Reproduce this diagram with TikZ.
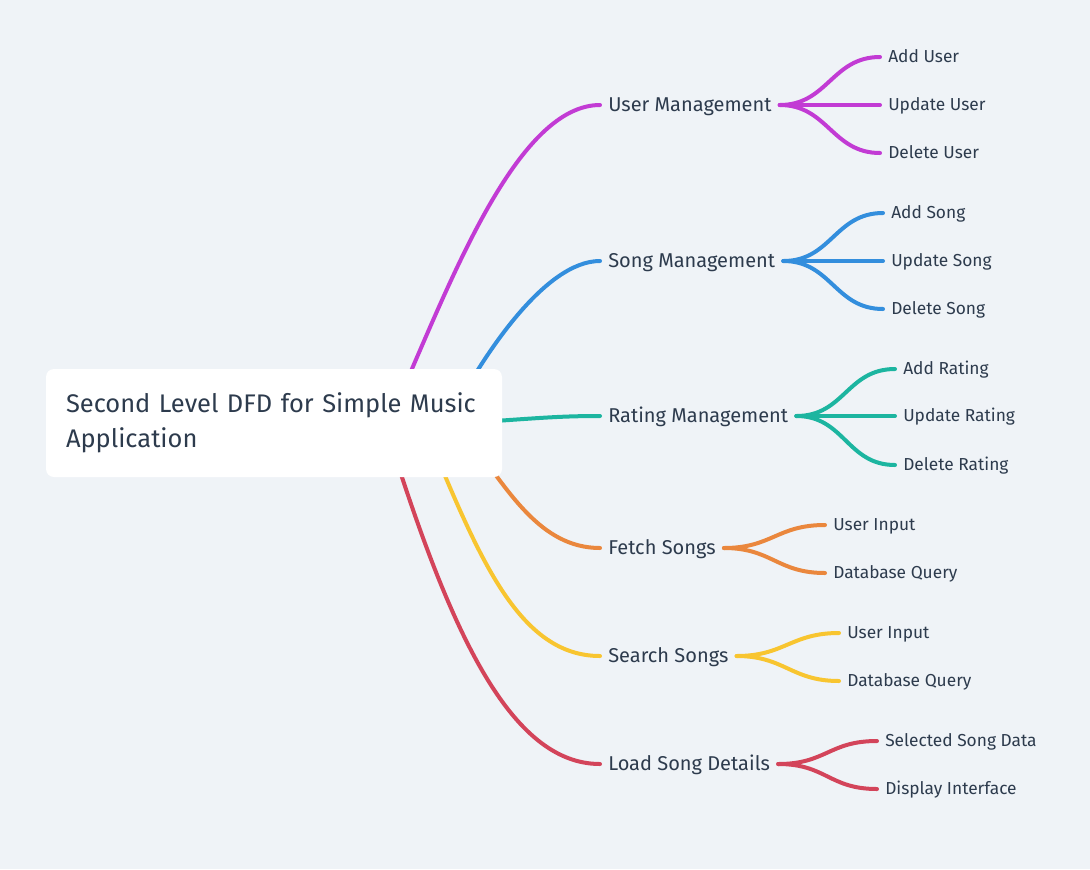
\documentclass[tikz,border=0pt]{standalone}
\usepackage{fontspec}
\setmainfont{Fira Sans}
\definecolor{canvas}{HTML}{EFF3F7}
\definecolor{ink}{HTML}{2D3B4D}
\definecolor{cUser}{HTML}{C23BD4}
\definecolor{cSong}{HTML}{338EDD}
\definecolor{cRate}{HTML}{1CB5A0}
\definecolor{cFetch}{HTML}{EA873D}
\definecolor{cSearch}{HTML}{F8C530}
\definecolor{cLoad}{HTML}{D3445A}
\pgfdeclarelayer{bg}
\pgfsetlayers{bg,main}
\tikzset{
    topic/.style={anchor=west, inner xsep=6pt, inner ysep=0pt, text=ink,
        text height=10.35pt, text depth=0pt, font=\fontsize{15}{18}\selectfont},
    leaf/.style={anchor=west, inner xsep=6pt, inner ysep=0pt, text=ink,
        text height=8.97pt, text depth=0pt, font=\fontsize{13}{16}\selectfont},
    branch/.style={line width=3pt, line cap=round},
}
\begin{document}
\begin{tikzpicture}[x=0.75pt, y=-0.75pt]
    \useasboundingbox (0,0) rectangle (1090,869);
    \begin{pgfonlayer}{bg}
        \fill[canvas] (0,0) rectangle (1090,869);
    \end{pgfonlayer}
    % root
    \node[fill=white, rounded corners=6pt, minimum width=342pt, minimum height=81pt,
        inner xsep=15pt, text width=312pt, align=left, text=ink,
        font=\fontsize{19.1}{26.25}\selectfont]
        (root) at (274,423) {\mbox{Second Level DFD for Simple Music}\\Application};
    % second level
    \node[topic] (um) at (600,105) {User Management};
    \node[topic] (sm) at (600,261) {Song Management};
    \node[topic] (rm) at (600,416) {Rating Management};
    \node[topic] (fs) at (600,548) {Fetch Songs};
    \node[topic] (ss) at (600,656) {Search Songs};
    \node[topic] (ld) at (600,764) {Load Song Details};
    % leaves
    \node[leaf] (au) at (880,57) {Add User};
    \node[leaf] (uu) at (880,105) {Update User};
    \node[leaf] (du) at (880,153) {Delete User};
    \node[leaf] (as) at (883,213) {Add Song};
    \node[leaf] (us) at (883,261) {Update Song};
    \node[leaf] (ds) at (883,309) {Delete Song};
    \node[leaf] (ar) at (895,369) {Add Rating};
    \node[leaf] (ur) at (895,416) {Update Rating};
    \node[leaf] (dr) at (895,465) {Delete Rating};
    \node[leaf] (fi) at (825,525) {User Input};
    \node[leaf] (fq) at (825,573) {Database Query};
    \node[leaf] (si) at (839,633) {User Input};
    \node[leaf] (sq) at (839,681) {Database Query};
    \node[leaf] (sd) at (877,741) {Selected Song Data};
    \node[leaf] (di) at (877,789) {Display Interface};
    % branch roots, hidden behind the title box
    \coordinate (um-src) at (405,385);
    \coordinate (sm-src) at (460,400);
    \coordinate (rm-src) at (480,422);
    \coordinate (fs-src) at (470,440);
    \coordinate (ss-src) at (430,440);
    \coordinate (ld-src) at (390,440);
    \begin{pgfonlayer}{bg}
        \draw[branch, cUser] (um-src) .. controls (455,270) and (520,105) .. (um.west);
        \draw[branch, cSong] (sm-src) .. controls (485,355) and (545,261) .. (sm.west);
        \draw[branch, cRate] (rm-src) .. controls (540,418) and (560,416) .. (rm.west);
        \draw[branch, cFetch] (fs-src) .. controls (508,490) and (540,548) .. (fs.west);
        \draw[branch, cSearch] (ss-src) .. controls (480,560) and (520,656) .. (ss.west);
        \draw[branch, cLoad] (ld-src) .. controls (450,630) and (510,764) .. (ld.west);
    \end{pgfonlayer}
    % third level
    \draw[branch, cUser] (um.east) .. controls +(48,0) and +(-48,0) .. (au.west);
    \draw[branch, cUser] (um.east) -- (uu.west);
    \draw[branch, cUser] (um.east) .. controls +(48,0) and +(-48,0) .. (du.west);
    \draw[branch, cSong] (sm.east) .. controls +(48,0) and +(-48,0) .. (as.west);
    \draw[branch, cSong] (sm.east) -- (us.west);
    \draw[branch, cSong] (sm.east) .. controls +(48,0) and +(-48,0) .. (ds.west);
    \draw[branch, cRate] (rm.east) .. controls +(48,0) and +(-48,0) .. (ar.west);
    \draw[branch, cRate] (rm.east) -- (ur.west);
    \draw[branch, cRate] (rm.east) .. controls +(48,0) and +(-48,0) .. (dr.west);
    \draw[branch, cFetch] (fs.east) .. controls +(48,0) and +(-48,0) .. (fi.west);
    \draw[branch, cFetch] (fs.east) .. controls +(48,0) and +(-48,0) .. (fq.west);
    \draw[branch, cSearch] (ss.east) .. controls +(48,0) and +(-48,0) .. (si.west);
    \draw[branch, cSearch] (ss.east) .. controls +(48,0) and +(-48,0) .. (sq.west);
    \draw[branch, cLoad] (ld.east) .. controls +(48,0) and +(-48,0) .. (sd.west);
    \draw[branch, cLoad] (ld.east) .. controls +(48,0) and +(-48,0) .. (di.west);
\end{tikzpicture}
\end{document}
